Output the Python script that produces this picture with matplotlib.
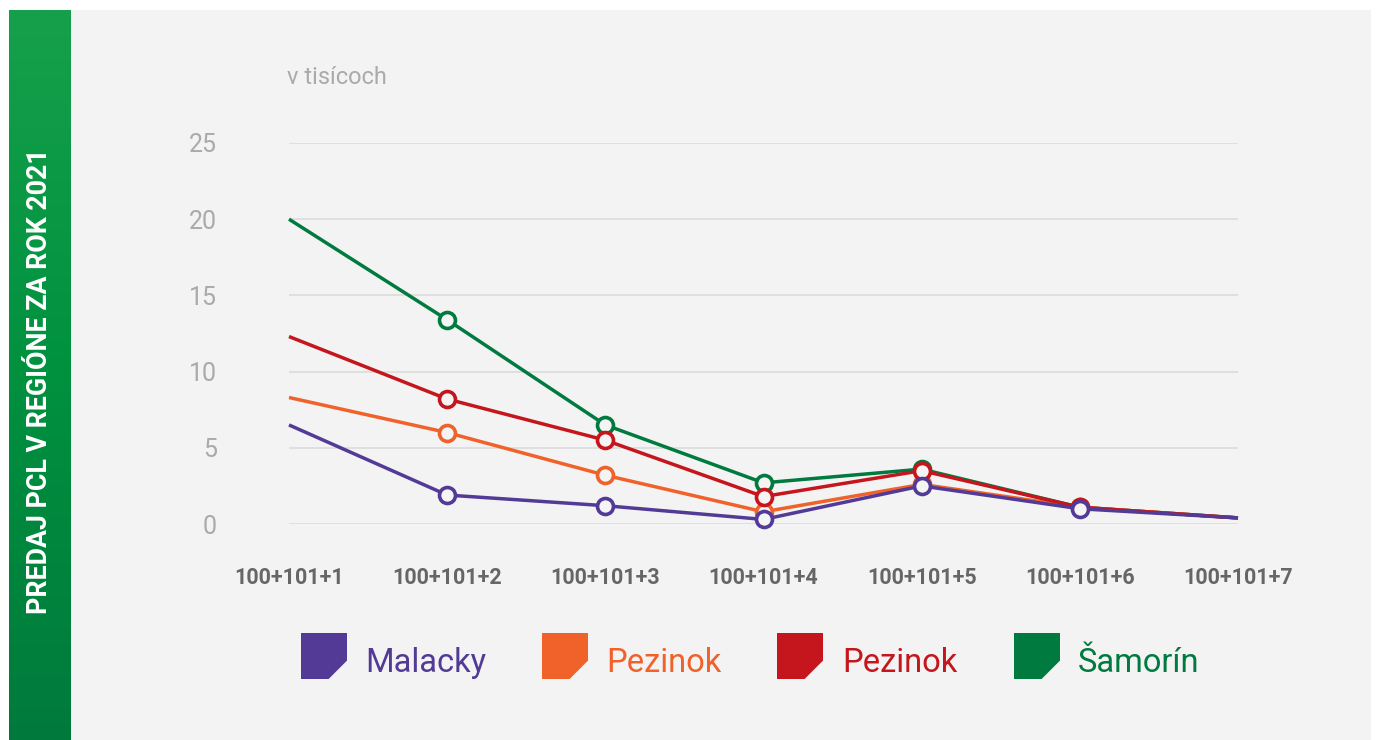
import numpy as np
import matplotlib
matplotlib.use("Agg")
import matplotlib.pyplot as plt
from matplotlib.patches import Rectangle, Polygon
from matplotlib.colors import LinearSegmentedColormap

categories = ["100+101+1", "100+101+2", "100+101+3", "100+101+4",
              "100+101+5", "100+101+6", "100+101+7"]
series_names = ["Malacky", "Pezinok", "Pezinok", "Šamorín"]
malacky = [6.5, 1.9, 1.2, 0.3, 2.5, 1.0, 0.4]
pezinok_orange = [8.3, 6.0, 3.2, 0.8, 2.6, 1.1, 0.4]
pezinok_red = [12.3, 8.2, 5.5, 1.8, 3.5, 1.1, 0.4]
samorin = [20.0, 13.4, 6.5, 2.7, 3.6, 1.1, 0.4]
y_ticks = [0, 5, 10, 15, 20, 25]
title = "PREDAJ PCL V REGIÓNE ZA ROK 2021"
unit_label = "v tisícoch"

colors = ["#523a96", "#f0622a", "#c4161c", "#007a3e"]
values = [malacky, pezinok_orange, pezinok_red, samorin]
zorders = [6, 4, 5, 3]

W, H = 1376, 740
fig = plt.figure(figsize=(W / 100, H / 100), dpi=100)
fig.patch.set_facecolor("white")

# background panel
bg = fig.add_axes([0, 0, 1, 1], zorder=-10)
bg.axis("off")
bg.add_patch(Rectangle((71, 10), 1371 - 71, 740 - 10, color="#f3f3f3", lw=0))
grad = np.linspace(0, 1, 256).reshape(-1, 1)
cmap = LinearSegmentedColormap.from_list("g", ["#16a04b", "#00913f", "#007a3c"])
bg.imshow(grad, extent=(9, 71, 740, 10), cmap=cmap, aspect="auto", zorder=1)
bg.set_xlim(0, W)
bg.set_ylim(H, 0)
bg.text(40, 381, title, rotation=90, color="white", fontsize=19.3,
        fontweight="bold", family="Roboto", ha="center", va="center", zorder=2)
bg.text(287, 78, unit_label, color="#aaaaaa", fontsize=17, family="Roboto",
        ha="left", va="center")

# main axes
left = 289 / W
right = 1238 / W
bottom = 1 - 524 / H
top = 1 - 143 / H
ax = fig.add_axes([left, bottom, right - left, top - bottom])
ax.patch.set_alpha(0)
x = np.arange(len(categories))
ax.set_xlim(0, len(categories) - 1)
ax.set_ylim(0, 25)
for s in ax.spines.values():
    s.set_visible(False)
ax.set_yticks(y_ticks)
ax.set_yticklabels([str(t) for t in y_ticks], color="#aaaaaa", fontsize=18,
                   family="Roboto")
ax.set_xticks(x)
ax.set_xticklabels(categories, color="#666666", fontsize=15.5,
                   family="Roboto", fontweight="bold")
ax.tick_params(axis="both", length=0)
ax.tick_params(axis="y", pad=52)
ax.tick_params(axis="x", pad=31)
ax.grid(axis="y", color="#dcdcdc", lw=1.2)
ax.set_axisbelow(True)

for vals, c, z in zip(values, colors, zorders):
    ax.plot(x, vals, color=c, lw=2.5, zorder=z, clip_on=False,
            solid_capstyle="butt")
    ax.plot(x[1:-1], vals[1:-1], ls="none", marker="o", ms=11.5,
            mfc="#f4f4f4", mec=c, mew=2.6, zorder=z, clip_on=False)

# legend
sq_x = [301, 542, 777, 1014]
txt_x = [365, 606, 842, 1078]
sq = 46
sy = 633
for sx, tx, name, c in zip(sq_x, txt_x, series_names, colors):
    pts = [(sx, sy), (sx + sq, sy), (sx + sq, sy + sq * 0.6),
           (sx + sq * 0.6, sy + sq), (sx, sy + sq)]
    bg.add_patch(Polygon(pts, closed=True, color=c, lw=0))
    bg.text(tx, sy + sq - 7, name, color=c, fontsize=23.5, family="Roboto",
            ha="left", va="baseline")

fig.savefig("out.png", dpi=100, facecolor="white")
